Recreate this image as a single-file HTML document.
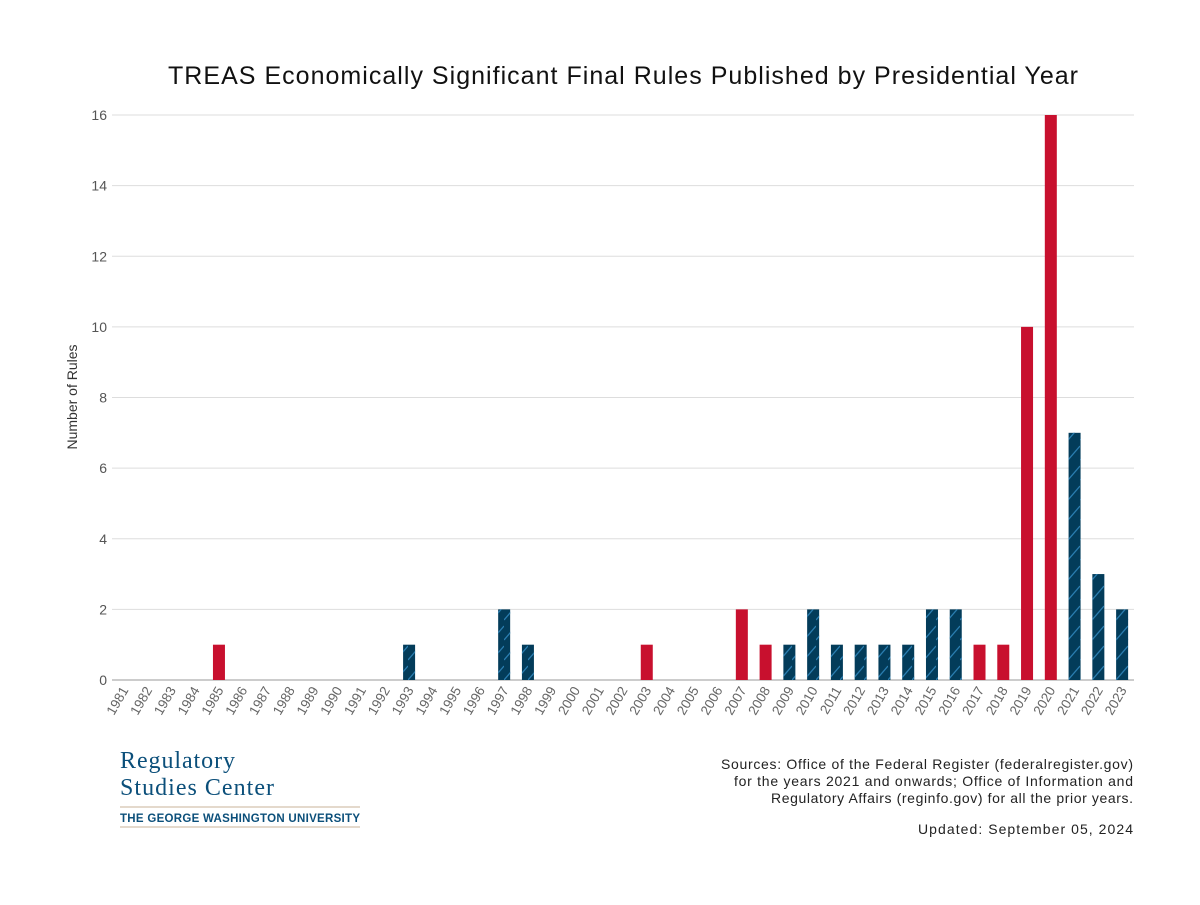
<!DOCTYPE html>
<html><head><meta charset="utf-8"><style>
body{margin:0;background:#fff;font-family:"Liberation Sans",sans-serif}
</style></head><body>
<svg id="c" width="1200" height="900" xmlns="http://www.w3.org/2000/svg">
<defs><pattern id="hatch" patternUnits="userSpaceOnUse" width="12" height="20"><line x1="0" y1="20" x2="12" y2="6" stroke="#2a7db0" stroke-width="1.3"/><line x1="0" y1="0" x2="12" y2="-14" stroke="#2a7db0" stroke-width="1.3"/><line x1="0" y1="40" x2="12" y2="26" stroke="#2a7db0" stroke-width="1.3"/></pattern></defs>
<text x="623" y="84" text-anchor="middle" font-size="25" fill="#111" textLength="910">TREAS Economically Significant Final Rules Published by Presidential Year</text>
<g id="grid"></g><g id="bars"></g><g id="xl"></g>
<text transform="translate(77,397) rotate(-90)" text-anchor="middle" font-size="14" fill="#333">Number of Rules</text>
<g>
<text x="120" y="768" font-family="Liberation Serif,serif" font-size="24" fill="#0b4f7a" textLength="115">Regulatory</text>
<text x="120" y="795" font-family="Liberation Serif,serif" font-size="24" fill="#0b4f7a" textLength="154">Studies Center</text>
<line x1="120" y1="807" x2="360" y2="807" stroke="#c8b39a"/>
<text x="120" y="822" font-size="11.5" font-weight="bold" fill="#0b4f7a" textLength="240">THE GEORGE WASHINGTON UNIVERSITY</text>
<line x1="120" y1="827" x2="360" y2="827" stroke="#c8b39a"/>
</g>
<g font-size="14" fill="#222" text-anchor="end">
<text x="1133" y="769" textLength="412">Sources: Office of the Federal Register (federalregister.gov)</text>
<text x="1133" y="786" textLength="399">for the years 2021 and onwards; Office of Information and</text>
<text x="1133" y="803" textLength="362">Regulatory Affairs (reginfo.gov) for all the prior years.</text>
<text x="1133" y="834" textLength="215">Updated: September 05, 2024</text>
</g>
</svg>
<script>
const years=[];for(let y=1981;y<=2023;y++)years.push(y);
const values=[0,0,0,0,1,0,0,0,0,0,0,0,1,0,0,0,2,1,0,0,0,0,1,0,0,0,2,1,1,2,1,1,1,1,2,2,1,1,10,16,7,3,2];
const party=['R','R','R','R','R','R','R','R','R','R','R','R','D','D','D','D','D','D','D','D','R','R','R','R','R','R','R','R','D','D','D','D','D','D','D','D','R','R','R','R','D','D','D'];
const yTicks=[0,2,4,6,8,10,12,14,16];
const NS='http://www.w3.org/2000/svg';
const x0=112,x1=1134,yb=680,yt=115,ymax=16;
const bw=(x1-x0)/years.length;
const X=i=>x0+bw*(i+0.5);
const Y=v=>yb-(yb-yt)*v/ymax;
function mk(t,a,p){const e=document.createElementNS(NS,t);for(const k in a)e.setAttribute(k,a[k]);p.appendChild(e);return e;}
const g=document.getElementById('grid');
yTicks.forEach(t=>{
 const l=mk('line',{x1:x0,x2:x1,y1:Y(t),y2:Y(t),stroke:t==0?'#ccc':'#ddd','stroke-width':t==0?2:1},g);
 
 
 const tx=mk('text',{x:107,y:Y(t)+5,'text-anchor':'end','font-size':14,fill:'#555'},g);
 tx.textContent=t;
 
 
});
const b=document.getElementById('bars'),xl=document.getElementById('xl');
years.forEach((yr,i)=>{
 const v=values[i];
 if(v>0){
  const r=mk('rect',{x:X(i)-6,y:Y(v),width:12,height:yb-Y(v),fill:party[i]=='R'?'#c8102e':'#033c5a'},b);
  
  
  if(party[i]=='D'){const h=mk('rect',{x:X(i)-6,y:Y(v),width:12,height:yb-Y(v),fill:'url(#hatch)'},b);
   
   }
 }
 const t=mk('text',{transform:`translate(${X(i)+5},${yb+10}) rotate(-60)`,'text-anchor':'end','font-size':13.5,fill:'#666'},xl);
 t.textContent=yr;
 
 
});
</script>
</body></html>
